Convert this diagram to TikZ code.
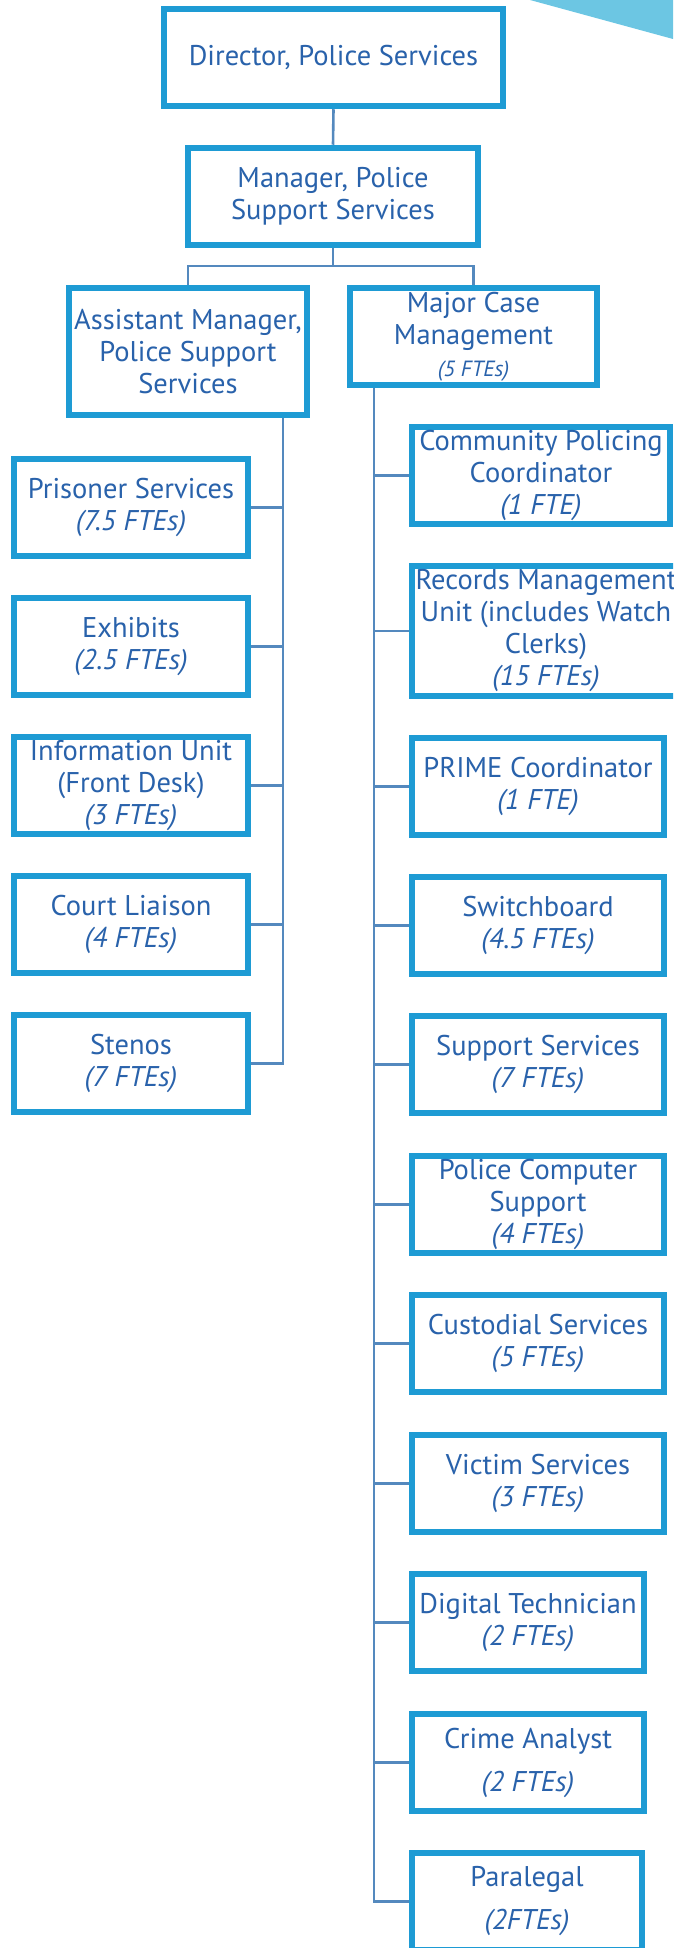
\documentclass[tikz,border=0pt]{standalone}
\usepackage{fontspec}
\setmainfont{PT Sans}
\usetikzlibrary{backgrounds}
\definecolor{boxblue}{RGB}{30,155,212}
\definecolor{textblue}{RGB}{41,98,171}
\definecolor{linkblue}{RGB}{84,137,190}
\definecolor{wedgeblue}{RGB}{108,198,227}
\begin{document}
\begin{tikzpicture}[x=1pt,y=-1pt,
  unit/.style={draw=boxblue, line width=6.5pt, fill=white, text=textblue,
    align=center, inner sep=0pt, font=\fontsize{28.5}{32}\selectfont},
  sz/.style 2 args={minimum width=#1pt, minimum height=#2pt},
  link/.style={draw=linkblue, line width=2.6pt}]
\useasboundingbox (0,0) rectangle (673,1948);
\clip (0,0) rectangle (673,1948);

% corner accent
\fill[wedgeblue] (530,0) -- (673,0) -- (673,39) -- cycle;

% top of the hierarchy
\node[unit, sz={339}{97}] (dir) at (333.5,57.5) {Director, Police Services};
\node[unit, sz={290}{97}] (mgr) at (333,196.5) {Manager, Police\\Support Services};
\node[unit, sz={238}{127}] (asst) at (188,351.5) {Assistant Manager,\\Police Support\\Services};
\node[unit, sz={247}{97}] (mcm) at (473.5,336.5) {Major Case\\Management\\{\fontsize{22}{28}\selectfont\itshape (5 FTEs)}};

% units under the assistant manager
\node[unit, sz={234}{97}] (pris) at (131,507.5) {Prisoner Services\\\itshape (7.5 FTEs)};
\node[unit, sz={234}{97}] (exh) at (131,646.5) {Exhibits\\\itshape (2.5 FTEs)};
\node[unit, sz={234}{97}] (info) at (131,785.5) {Information Unit\\(Front Desk)\\\itshape (3 FTEs)};
\node[unit, sz={234}{97}] (court) at (131,924.5) {Court Liaison\\\itshape (4 FTEs)};
\node[unit, sz={234}{97}] (sten) at (131,1063.5) {Stenos\\\itshape (7 FTEs)};

% units under major case management
\node[unit, sz={258}{97}] (comm) at (541,475.5) {Community Policing\\Coordinator\\\itshape (1 FTE)};
\node[unit, sz={268}{130}] (rec) at (546,631) {Records Management\\Unit (includes Watch\\Clerks)\\\itshape (15 FTEs)};
\node[unit, sz={252}{97}] (prime) at (538,786.5) {PRIME Coordinator\\\itshape (1 FTE)};
\node[unit, sz={252}{97}] (swb) at (538,925.5) {Switchboard\\\itshape (4.5 FTEs)};
\node[unit, sz={252}{97}] (sup) at (538,1064.5) {Support Services\\\itshape (7 FTEs)};
\node[unit, sz={252}{97}] (pcs) at (538,1204.5) {Police Computer\\Support\\\itshape (4 FTEs)};
\node[unit, sz={252}{97}] (cust) at (538,1343.5) {Custodial Services\\\itshape (5 FTEs)};
\node[unit, sz={252}{97}] (vic) at (538,1483.5) {Victim Services\\\itshape (3 FTEs)};
\node[unit, sz={232}{97}] (dig) at (528,1622.5) {Digital Technician\\\itshape (2 FTEs)};
\node[unit, sz={232}{97}] (crime) at (528,1762.5) {Crime Analyst\\[11pt]\itshape (2 FTEs)};
\node[unit, sz={230}{97}] (para) at (527,1901.5) {Paralegal\\[11pt]\itshape (2FTEs)};

\coordinate (bus) at (0,266);
\coordinate (lt) at (283,0);
\coordinate (rt) at (374,0);

\begin{scope}[on background layer]
  \draw[link] (dir.south) -- (mgr.north);
  \draw[link] (mgr.south) -- (mgr.south |- bus);
  \draw[link] (asst.north) -- (asst.north |- bus) -- (mcm.north |- bus) -- (mcm.north);
  % left trunk
  \draw[link] (lt |- asst.south) -- (lt |- sten.east) -- (sten.east);
  \foreach \n in {pris,exh,info,court}
    \draw[link] (lt |- \n.east) -- (\n.east);
  % right trunk
  \draw[link] (rt |- mcm.south) -- (rt |- para.west) -- (para.west);
  \foreach \n in {comm,rec,prime,swb,sup,pcs,cust,vic,dig,crime}
    \draw[link] (rt |- \n.west) -- (\n.west);
\end{scope}
\end{tikzpicture}
\end{document}
